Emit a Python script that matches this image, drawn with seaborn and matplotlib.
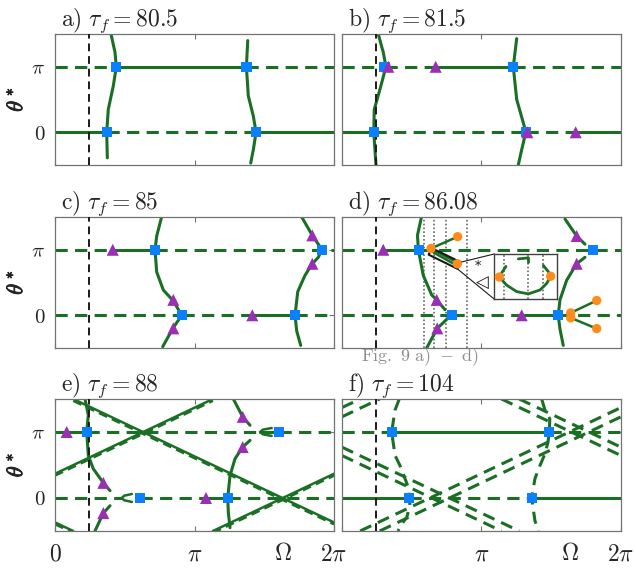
import numpy as np
import matplotlib.pyplot as plt
import seaborn as sns
from matplotlib import patheffects

PI = np.pi
TWO_PI = 2 * np.pi
OMEGA = 5.14

GREEN = '#1a6f24'
BLUE = '#0a80ff'
PURPLE = '#9a2eb4'
ORANGE = '#ff8c1a'
DASH = (0, (4, 2.4))
LW = 2.2

# ---- data (x in rad, theta in units of pi) ----
TAU_F = ['80.5', '81.5', '85', '86.08', '88', '104']
LETTERS = ['a', 'b', 'c', 'd', 'e', 'f']
VLINE_X = [0.77, 0.766, 0.772, 0.766, 0.772, 0.766]

# a)
A_PI_X = [0, 1.38, 4.31, TWO_PI]
A_PI_LS = ['--', '-', '--']
A_ZERO_X = [0, 1.164, 4.527, TWO_PI]
A_ZERO_LS = ['-', '--', '-']
A_C1_X = [1.261, 1.351, 1.38, 1.313, 1.20, 1.164, 1.178]
A_C1_T = [1.5, 1.22, 1.0, 0.71, 0.35, 0.0, -0.39]
A_C2_X = [4.34, 4.31, 4.353, 4.466, 4.527, 4.466, 4.407]
A_C2_T = [1.40, 1.0, 0.554, 0.246, 0.0, -0.266, -0.47]
A_SQ_X = [1.38, 1.164, 4.31, 4.527]
A_SQ_T = [1, 0, 1, 0]

# b)
B_PI_X = [0, 0.96, 2.11, 3.858, TWO_PI]
B_PI_LS = ['--', '--', '-', '--']
B_ZERO_X = [0, 0.716, 4.14, 5.263, TWO_PI]
B_ZERO_LS = ['-', '--', '--', '-']
B_C1_X = [0.817, 0.93, 0.99, 0.856, 0.727, 0.716, 0.766]
B_C1_T = [1.5, 1.22, 1.0, 0.657, 0.35, 0.0, -0.5]
B_C2_X = [3.934, 3.858, 3.934, 4.083, 4.14, 4.047, 3.97]
B_C2_T = [1.43, 1.0, 0.503, 0.145, 0.0, -0.266, -0.5]
B_SQ_X = [0.96, 0.716, 3.858, 4.14]
B_SQ_T = [1, 0, 1, 0]
B_TRI_X = [1.043, 2.11, 4.174, 5.263]
B_TRI_T = [1, 1, 0, 0]

# c)
C_PI_X = [0, 1.30, 2.252, TWO_PI]
C_PI_LS = ['--', '-', '--']
C_ZERO_X = [0, 2.853, 4.443, 5.405, TWO_PI]
C_ZERO_LS = ['--', '--', '-', '--']
C_C1_X = [2.40, 2.29, 2.252, 2.29, 2.439, 2.664, 2.853, 2.664, 2.425]
C_C1_T = [1.5, 1.21, 1.0, 0.66, 0.385, 0.22, 0.0, -0.19, -0.48]
C_C2_X = [5.556, 5.794, 5.93, 6.006, 5.93, 5.794, 5.63, 5.466, 5.405, 5.443, 5.533]
C_C2_T = [1.5, 1.22, 1.085, 1.0, 0.885, 0.786, 0.61, 0.36, 0.0, -0.24, -0.46]
C_SQ_X = [2.252, 2.853, 6.006, 5.405]
C_SQ_T = [1, 0, 1, 0]
C_TRI_X = [1.30, 2.664, 2.664, 4.443, 5.794, 5.794]
C_TRI_T = [1, 0.235, -0.20, 0, 1.22, 0.786]

# d)
D_PI_X = [0, 0.93, 1.741, TWO_PI]
D_PI_LS = ['--', '-', '--']
D_ZERO_X = [0, 2.484, 4.047, 4.871, TWO_PI]
D_ZERO_LS = ['--', '--', '-', '--']
D_C1_X = [1.79, 1.70, 1.72, 1.83, 2.02, 2.133, 2.32]
D_C1_T = [1.5, 1.22, 1.0, 0.61, 0.31, 0.235, 0.085]
D_C2_X = [2.394, 2.146, 1.907]
D_C2_T = [-0.04, -0.20, -0.5]
D_C3_X = [5.022, 5.285, 5.472]
D_C3_T = [1.47, 1.21, 1.085]
D_C4_X = [5.472, 5.285, 5.06, 4.909, 4.871, 4.909, 4.983]
D_C4_T = [0.885, 0.786, 0.535, 0.235, 0.0, -0.21, -0.46]
D_SQ_X = [1.741, 2.484, 5.646, 4.871]
D_SQ_T = [1, 0, 1, 0]
D_TRI_X = [0.93, 2.133, 2.146, 4.047, 5.285, 5.285]
D_TRI_T = [1, 0.235, -0.20, 0, 1.21, 0.786]
D_DOT_X = [1.853, 2.072, 2.342, 2.808]
D_SPOKE_X0 = [2.005, 2.02, 2.057, 5.15, 5.15]
D_SPOKE_T0 = [1.02, 1.01, 0.96, 0.036, -0.039]
D_SPOKE_X1 = [2.606, 2.583, 2.583, 5.736, 5.736]
D_SPOKE_T1 = [1.20, 0.81, 0.76, 0.225, -0.204]
D_ORANGE_X = [2.005, 2.606, 2.597, 5.15, 5.15, 5.736, 5.736]
D_ORANGE_T = [1.02, 1.20, 0.786, 0.036, -0.039, 0.225, -0.204]
D_BOX_X = [2.02, 2.673, 2.597, 1.952, 2.02]
D_BOX_T = [1.025, 0.81, 0.71, 0.925, 1.025]
D_INSET = [3.43, 0.246, 1.405, 0.69]   # x0, t0, width, height
# inset contents (inset-relative units)
IN_ARC_X = [0.08, 0.198, 0.358, 0.545, 0.733, 0.84, 0.904]
IN_ARC_Y = [0.49, 0.31, 0.167, 0.116, 0.203, 0.348, 0.507]
IN_STUB_X0 = [0.118, 0.87, 0.385, 0.545]
IN_STUB_Y0 = [0.58, 0.60, 0.891, 0.913]
IN_STUB_X1 = [0.187, 0.786, 0.545, 0.545]
IN_STUB_Y1 = [0.725, 0.746, 0.913, 0.82]
IN_ORANGE_X = [0.08, 0.904]
IN_ORANGE_Y = [0.49, 0.507]
IN_DOT_X = [0.155, 0.545, 0.775]

# e)
E_PI_X = [0, 0.263, 0.714, 4.617, 5.051, TWO_PI]
E_PI_LS = ['--', '-', '--', '-', '--']
E_ZERO_X = [0, 1.502, 1.914, 3.40, 3.889, TWO_PI]
E_ZERO_LS = ['--', None, '--', '-', '--']
E_NOTCH_X = [[1.73, 1.56, 1.502, 1.56, 1.73], [4.88, 4.68, 4.617, 4.68, 4.88]]
E_NOTCH_T = [[0.06, 0.035, 0.0, -0.035, -0.06], [1.06, 1.035, 1.0, 0.965, 0.94]]
E_DIAG_X0 = [0.41, 0.0, 0.0, 3.557]
E_DIAG_T0 = [1.5, -0.37, 0.367, -0.5]
E_DIAG_X1 = [TWO_PI, 0.41, 3.557, TWO_PI]
E_DIAG_T1 = [-0.37, -0.5, 1.5, 0.367]
E_C1_X = [0.676, 0.75, 0.714, 0.75, 0.862, 1.088, 1.239]
E_C1_T = [1.5, 1.255, 1.0, 0.645, 0.442, 0.229, 0.111]
E_C2_X = [1.239, 1.088, 0.90]
E_C2_T = [-0.117, -0.229, -0.5]
E_C3_X = [4.015, 4.227, 4.391]
E_C3_T = [1.5, 1.229, 1.102]
E_C4_X = [4.391, 4.227, 4.054, 3.941, 3.889, 3.903, 3.941]
E_C4_T = [0.873, 0.771, 0.595, 0.34, 0.0, -0.22, -0.45]
E_SQ_X = [0.714, 1.914, 3.889, 5.051]
E_SQ_T = [1, 0, 0, 1]
E_TRI_X = [0.263, 1.088, 1.088, 3.40, 4.227, 4.227]
E_TRI_T = [1, 0.229, -0.229, 0, 1.229, 0.771]

# f)
F_PI_X = [0, 1.119, 4.668, TWO_PI]
F_PI_LS = ['--', '-', '--']
F_ZERO_X = [0, 1.516, 4.272, TWO_PI]
F_ZERO_LS = ['-', '--', '-']
F_DIAG_X0 = [0.0, 0.41, 0.0, 0.85, 0.0, 3.99, 0.0, 3.59]
F_DIAG_T0 = [1.37, -0.5, 1.23, -0.5, 0.77, 1.5, 0.643, 1.5]
F_DIAG_X1 = [0.41, TWO_PI, 0.85, TWO_PI, 3.99, TWO_PI, 3.59, TWO_PI]
F_DIAG_T1 = [1.5, 1.37, 1.5, 1.23, -0.5, 0.77, -0.5, 0.643]
F_C1_X = [1.29, 1.194, 1.119, 1.194, 1.306, 1.419, 1.493, 1.516, 1.531, 1.457, 1.344, 1.261]
F_C1_T = [1.5, 1.33, 1.0, 0.645, 0.492, 0.294, 0.162, 0.0, -0.117, -0.296, -0.396, -0.5]
F_C2_X = [4.497, 4.572, 4.68, 4.668, 4.64, 4.572, 4.459, 4.346, 4.272, 4.346, 4.42]
F_C2_T = [1.5, 1.33, 1.2, 1.0, 0.85, 0.671, 0.492, 0.294, 0.0, -0.346, -0.5]
F_SQ_X = [1.119, 1.516, 4.272, 4.668]
F_SQ_T = [1, 0, 0, 1]

X_LABELS_LEFT = [r'$0$', r'$\pi$', r'$2\pi$']
X_LABELS_RIGHT = ['', r'$\pi$', r'$2\pi$']
Y_LABELS = [r'$0$', r'$\pi$']


def draw_line(ax, x, t, ls='-', color=GREEN, lw=LW, z=2, scale=PI):
    style = DASH if ls == '--' else ls
    sns.lineplot(x=np.asarray(x, float), y=np.asarray(t, float) * scale, ax=ax,
                 color=color, lw=lw, linestyle=style, sort=False,
                 estimator=None, zorder=z)


def draw_hlines(ax, breaks, styles, t):
    for x0, x1, ls in zip(breaks[:-1], breaks[1:], styles):
        if ls is not None:
            draw_line(ax, [x0, x1], [t, t], ls)


def draw_pts(ax, x, t, marker, color, s, z, scale=PI):
    sns.scatterplot(x=np.asarray(x, float), y=np.asarray(t, float) * scale, ax=ax,
                    marker=marker, s=s, color=color, edgecolor='none',
                    linewidth=0, zorder=z)


def squares(ax, x, t):
    draw_pts(ax, x, t, 's', BLUE, 55, 5)


def triangles(ax, x, t):
    draw_pts(ax, x, t, '^', PURPLE, 75, 6)


sns.set_theme(style='white')
plt.rcParams['mathtext.fontset'] = 'cm'
plt.rcParams['font.family'] = ['DejaVu Serif']

fig = plt.figure(figsize=(6.36, 5.72), dpi=100)
LEFTS = [0.0865, 0.5377]
BOTTOMS = [0.7115, 0.3916, 0.0717]
HEIGHTS = [0.229, 0.229, 0.2308]
W = 0.4387

axes = []
for r in range(3):
    for c in range(2):
        axes.append(fig.add_axes([LEFTS[c], BOTTOMS[r], W, HEIGHTS[r]]))

for i, ax in enumerate(axes):
    ax.set_xlim(0, TWO_PI)
    ax.set_ylim(-PI / 2, 1.5 * PI)
    ax.set_xticks([0, PI, TWO_PI])
    ax.set_xticks([OMEGA], minor=True)
    ax.set_yticks([0, PI])
    bottom_row = i >= 4
    left_col = i % 2 == 0
    if bottom_row:
        ax.set_xticklabels(X_LABELS_LEFT if left_col else X_LABELS_RIGHT)
        ax.set_xticklabels([r'$\Omega$'], minor=True)
    else:
        ax.set_xticklabels(['', '', ''])
        ax.set_xticklabels([''], minor=True)
    ax.set_yticklabels(Y_LABELS if left_col else ['', ''])
    ax.tick_params(axis='both', which='both', direction='in', top=True, right=True,
                   bottom=True, left=True, length=3.5, width=0.8, color='0.45')
    ax.tick_params(axis='x', which='minor', length=0)
    ax.tick_params(axis='x', which='both', labelsize=17, pad=8)
    ax.tick_params(axis='y', labelsize=15, pad=7)
    for sp in ax.spines.values():
        sp.set_color('0.45')
        sp.set_linewidth(0.9)
    ax.text(0.022, 1.06, r'$\mathrm{%s)}\ \tau_f = %s$' % (LETTERS[i], TAU_F[i]),
            transform=ax.transAxes, fontsize=17, ha='left', va='baseline')
    draw_line(ax, [VLINE_X[i], VLINE_X[i]], [-0.5, 1.5], ls=(0, (4, 2.5)),
              color='k', lw=1.4, z=3)

ax_a, ax_b, ax_c, ax_d, ax_e, ax_f = axes

# a)
draw_hlines(ax_a, A_PI_X, A_PI_LS, 1)
draw_hlines(ax_a, A_ZERO_X, A_ZERO_LS, 0)
draw_line(ax_a, A_C1_X, A_C1_T)
draw_line(ax_a, A_C2_X, A_C2_T)
squares(ax_a, A_SQ_X, A_SQ_T)

# b)
draw_hlines(ax_b, B_PI_X, B_PI_LS, 1)
draw_hlines(ax_b, B_ZERO_X, B_ZERO_LS, 0)
draw_line(ax_b, B_C1_X, B_C1_T)
draw_line(ax_b, B_C2_X, B_C2_T)
squares(ax_b, B_SQ_X, B_SQ_T)
triangles(ax_b, B_TRI_X, B_TRI_T)

# c)
draw_hlines(ax_c, C_PI_X, C_PI_LS, 1)
draw_hlines(ax_c, C_ZERO_X, C_ZERO_LS, 0)
draw_line(ax_c, C_C1_X, C_C1_T)
draw_line(ax_c, C_C2_X, C_C2_T)
squares(ax_c, C_SQ_X, C_SQ_T)
triangles(ax_c, C_TRI_X, C_TRI_T)

# d)
for xv in D_DOT_X:
    draw_line(ax_d, [xv, xv], [-0.5, 1.5], ls=(0, (1, 1.3)), color='0.4', lw=1.2, z=1.5)
draw_hlines(ax_d, D_PI_X, D_PI_LS, 1)
draw_hlines(ax_d, D_ZERO_X, D_ZERO_LS, 0)
for cx, ct in [(D_C1_X, D_C1_T), (D_C2_X, D_C2_T), (D_C3_X, D_C3_T), (D_C4_X, D_C4_T)]:
    draw_line(ax_d, cx, ct)
for x0, t0, x1, t1 in zip(D_SPOKE_X0, D_SPOKE_T0, D_SPOKE_X1, D_SPOKE_T1):
    draw_line(ax_d, [x0, x1], [t0, t1], lw=1.8)
draw_line(ax_d, D_BOX_X, D_BOX_T, color='k', lw=1.5, z=4)
ix0, it0, iw, ih = D_INSET
draw_line(ax_d, [D_BOX_X[1], ix0], [D_BOX_T[1], it0 + ih], color='k', lw=0.8, z=4)
draw_line(ax_d, [D_BOX_X[2], ix0], [D_BOX_T[2], it0], color='k', lw=0.8, z=4)
squares(ax_d, D_SQ_X, D_SQ_T)
triangles(ax_d, D_TRI_X, D_TRI_T)
draw_pts(ax_d, D_ORANGE_X, D_ORANGE_T, 'o', ORANGE, 45, 7)
ax_d.text(3.07, 0.74 * PI, '*', fontsize=9, ha='center', va='center', color='k')
ax_d.text(3.15, 0.50 * PI, '\u25c1', fontsize=12, ha='center', va='center',
          color='k', family=['DejaVu Sans'])

iax = ax_d.inset_axes([ix0, it0 * PI, iw, ih * PI], transform=ax_d.transData)
iax.set_facecolor('white')
for xv in IN_DOT_X:
    draw_line(iax, [xv, xv], [0, 1], ls=(0, (1, 1.3)), color='0.4', lw=1.2, z=1.5, scale=1)
draw_line(iax, IN_ARC_X, IN_ARC_Y, lw=2.0, scale=1)
for x0, y0, x1, y1 in zip(IN_STUB_X0, IN_STUB_Y0, IN_STUB_X1, IN_STUB_Y1):
    draw_line(iax, [x0, x1], [y0, y1], lw=2.0, scale=1)
draw_pts(iax, IN_ORANGE_X, IN_ORANGE_Y, 'o', ORANGE, 45, 7, scale=1)
iax.set_xlim(0, 1)
iax.set_ylim(0, 1)
iax.set_xticks([])
iax.set_yticks([])
iax.set_xlabel('')
iax.set_ylabel('')
for sp in iax.spines.values():
    sp.set_color('0.25')
    sp.set_linewidth(1.0)

# e)
draw_hlines(ax_e, E_PI_X, E_PI_LS, 1)
draw_hlines(ax_e, E_ZERO_X, E_ZERO_LS, 0)
for nx, nt in zip(E_NOTCH_X, E_NOTCH_T):
    draw_line(ax_e, nx, nt, lw=1.8)
for x0, t0, x1, t1 in zip(E_DIAG_X0, E_DIAG_T0, E_DIAG_X1, E_DIAG_T1):
    draw_line(ax_e, [x0, x1], [t0, t1], lw=1.8)
    draw_line(ax_e, [x0, x1], [t0 - 0.03, t1 - 0.03], ls='--', lw=1.6)
for cx, ct in [(E_C1_X, E_C1_T), (E_C2_X, E_C2_T), (E_C3_X, E_C3_T), (E_C4_X, E_C4_T)]:
    draw_line(ax_e, cx, ct)
squares(ax_e, E_SQ_X, E_SQ_T)
triangles(ax_e, E_TRI_X, E_TRI_T)

# f)
draw_hlines(ax_f, F_PI_X, F_PI_LS, 1)
draw_hlines(ax_f, F_ZERO_X, F_ZERO_LS, 0)
for x0, t0, x1, t1 in zip(F_DIAG_X0, F_DIAG_T0, F_DIAG_X1, F_DIAG_T1):
    draw_line(ax_f, [x0, x1], [t0, t1], ls='--')
draw_line(ax_f, F_C1_X, F_C1_T, ls='--')
draw_line(ax_f, F_C2_X, F_C2_T, ls='--')
squares(ax_f, F_SQ_X, F_SQ_T)

# axis labels last (seaborn sets its own on every call)
for i, ax in enumerate(axes):
    ax.set_xlabel('')
    if i % 2 == 0:
        ax.set_ylabel(r'$\theta^*$', fontsize=16,
                      path_effects=[patheffects.withStroke(linewidth=0.6, foreground='k')])
        ax.yaxis.set_label_coords(-0.10, 0.5)
    else:
        ax.set_ylabel('')

fig.text(0.660, 0.369, r'$\mathrm{Fig.\ 9\ a)}\ -\ \mathrm{d)}$', color='0.55',
         fontsize=13, ha='center', va='baseline')

fig.savefig('out.png', dpi=100)
plt.close(fig)
